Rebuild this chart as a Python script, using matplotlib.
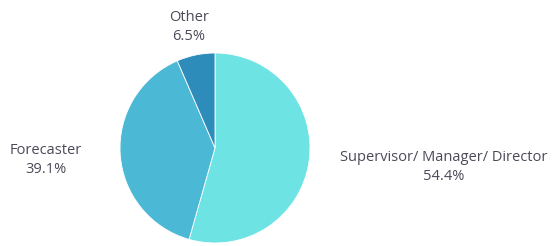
import matplotlib.pyplot as plt

# data
labels = ['Supervisor/ Manager/ Director', 'Forecaster', 'Other']
shares = [54.4, 39.1, 6.5]
colors = ['#6ee3e3', '#4bb9d5', '#2e8cbb']

W, H = 555, 246
fig = plt.figure(figsize=(W / 100, H / 100), dpi=100)
plt.rcParams['font.family'] = ['Open Sans', 'DejaVu Sans']

# pie centre ~ (215, 148) px, radius ~95 px
cx, cy, r = 215, 148, 95
ax = fig.add_axes([(cx - r) / W, (H - cy - r) / H, 2 * r / W, 2 * r / H])
ax.pie(shares, colors=colors, startangle=90, counterclock=False,
       wedgeprops=dict(edgecolor='white', linewidth=0.6))
ax.set_xlim(-1, 1)
ax.set_ylim(-1, 1)
ax.set_aspect('equal')

# label positions in pixels (x centre, y centre)
label_pos = [(444, 167), (46, 160), (189, 27)]
for name, val, (px, py) in zip(labels, shares, label_pos):
    fig.text(px / W, 1 - py / H, f'{name}\n{val}%', ha='center', va='center',
             fontsize=10.5, color='#4a4a58', linespacing=1.3)

fig.savefig('out.png', dpi=100)
